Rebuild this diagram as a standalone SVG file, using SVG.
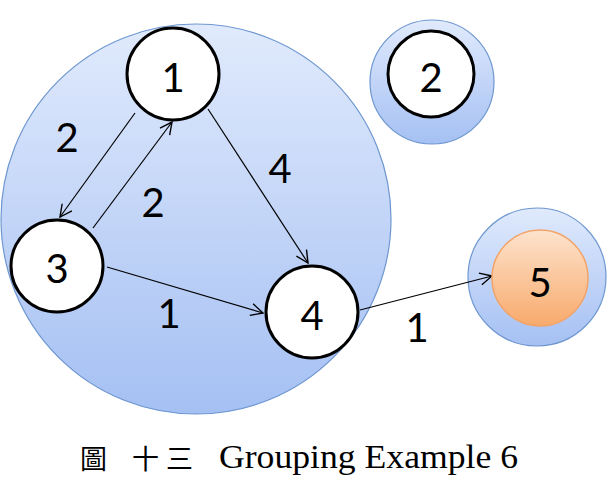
<svg xmlns="http://www.w3.org/2000/svg" width="609" height="485" viewBox="0 0 609 485">
<defs>
<linearGradient id="blue" x1="0" y1="0" x2="0" y2="1">
<stop offset="0" stop-color="#e0eafc"/>
<stop offset="1" stop-color="#a5c0f3"/>
</linearGradient>
<linearGradient id="orange" x1="0" y1="0" x2="0" y2="1">
<stop offset="0" stop-color="#fde3cd"/>
<stop offset="1" stop-color="#f8aa6c"/>
</linearGradient>
<marker id="arr" viewBox="0 0 14 14" refX="13" refY="7" markerWidth="14" markerHeight="14" markerUnits="userSpaceOnUse" orient="auto">
<path d="M1,1 L13,7 L1,13" fill="none" stroke="#000" stroke-width="1.4"/>
</marker>
</defs>
<style>
.grp{fill:url(#blue);stroke:#6e97d0;stroke-width:1.2}
.node{fill:#fff;stroke:#000;stroke-width:3}
.lbl{font-family:Lato,"Open Sans","Liberation Sans",sans-serif;font-size:40px;fill:#000;text-anchor:middle}
.edge{fill:none;stroke:#000;stroke-width:1.2;marker-end:url(#arr)}
</style>
<rect width="609" height="485" fill="#fff"/>
<g id="group-a"><circle class="grp" cx="196" cy="219" r="195"/></g>
<g id="group-b"><circle class="grp" cx="432" cy="82" r="62"/></g>
<g id="group-c"><circle class="grp" cx="537" cy="277" r="69"/></g>
<g id="connectors">
<line class="edge" x1="135" y1="113" x2="60" y2="217"/>
<line class="edge" x1="93" y1="228" x2="172" y2="122"/>
<line class="edge" x1="208" y1="109" x2="308" y2="263"/>
<line class="edge" x1="107" y1="267" x2="263" y2="313"/>
<line class="edge" x1="360" y1="310" x2="492" y2="276"/>
<text class="lbl" x="67" y="152">2</text>
<text class="lbl" x="153" y="217">2</text>
<text class="lbl" x="280" y="183">4</text>
<text class="lbl" x="169" y="328">1</text>
<text class="lbl" x="417" y="342">1</text>
</g>
<g id="node1"><circle class="node" cx="173" cy="74" r="46"/><text class="lbl" x="173" y="92">1</text></g>
<g id="node2"><circle class="node" cx="431" cy="74" r="43"/><text class="lbl" x="431" y="92">2</text></g>
<g id="node3"><circle class="node" cx="57" cy="266" r="46"/><text class="lbl" x="57" y="283">3</text></g>
<g id="node4"><circle class="node" cx="312" cy="312" r="46"/><text class="lbl" x="312" y="330">4</text></g>
<g id="node5"><circle cx="540" cy="278" r="48" fill="url(#orange)" stroke="#f2a468" stroke-width="1.5"/><text class="lbl" x="540" y="297">5</text></g>
<g id="caption">
<text font-family="'Noto Sans CJK TC',serif" font-size="27" y="469"><tspan x="80">圖</tspan><tspan x="132">十</tspan><tspan x="166">三</tspan></text>
<text font-family="'Liberation Serif',serif" font-size="34" x="219" y="468" textLength="299" lengthAdjust="spacingAndGlyphs">Grouping Example 6</text>
</g>
</svg>
